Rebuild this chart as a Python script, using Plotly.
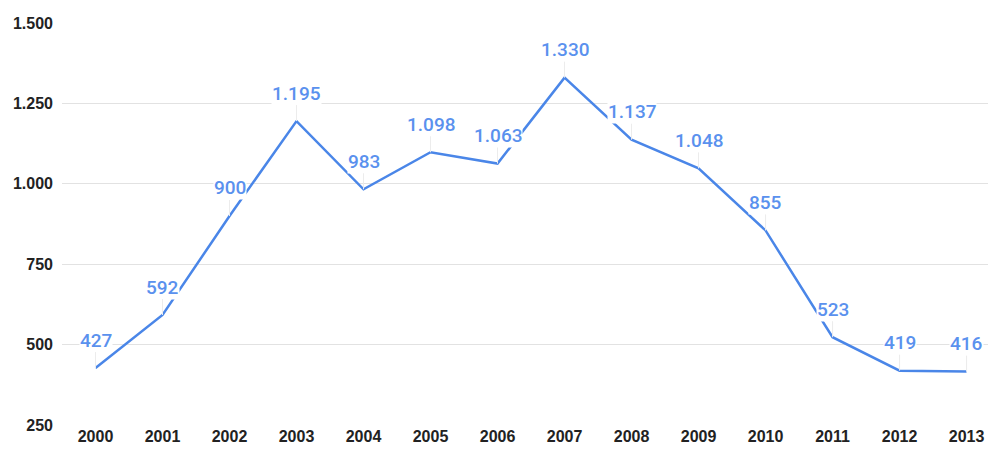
import plotly.graph_objects as go

years = ["2000", "2001", "2002", "2003", "2004", "2005", "2006",
         "2007", "2008", "2009", "2010", "2011", "2012", "2013"]
values = [427, 592, 900, 1195, 983, 1098, 1063, 1330, 1137, 1048, 855, 523, 419, 416]
y_ticks = [250, 500, 750, 1000, 1250, 1500]

LINE = "#4a86e8"
LABEL = "#5a91ee"


def fmt(v):
    return f"{v:,}".replace(",", ".")


fig = go.Figure()
fig.add_trace(go.Scatter(
    x=years, y=values, mode="lines",
    line=dict(color=LINE, width=2.5),
    hoverinfo="skip",
))

for i, v in enumerate(values):
    fig.add_annotation(
        x=i, y=v, xref="x", yref="y", text=fmt(v),
        showarrow=True, arrowhead=0, arrowwidth=1, arrowcolor="#ececec",
        ax=0, ay=-28, standoff=0,
        bgcolor="white", borderpad=0,
        font=dict(family="Roboto", size=19, color=LABEL, weight=500),
    )

fig.update_layout(
    width=988, height=450,
    margin=dict(l=62, r=0, t=23, b=25),
    paper_bgcolor="white", plot_bgcolor="white",
    showlegend=False,
    font=dict(family="Liberation Sans"),
)
fig.update_xaxes(
    type="category", range=[-0.5, 13.32],
    showgrid=False, showline=False, zeroline=False,
    ticks="", tickfont=dict(size=16, color="#222222", weight="bold"),
)
fig.update_yaxes(
    range=[250, 1500], tickvals=y_ticks,
    ticktext=[fmt(t) for t in y_ticks],
    showgrid=True, gridcolor="#e2e2e2", gridwidth=1,
    zeroline=False, showline=False, ticks="",
    ticklabelstandoff=8,
    tickfont=dict(size=16, color="#222222", weight="bold"),
)

fig.write_html("out.html")
